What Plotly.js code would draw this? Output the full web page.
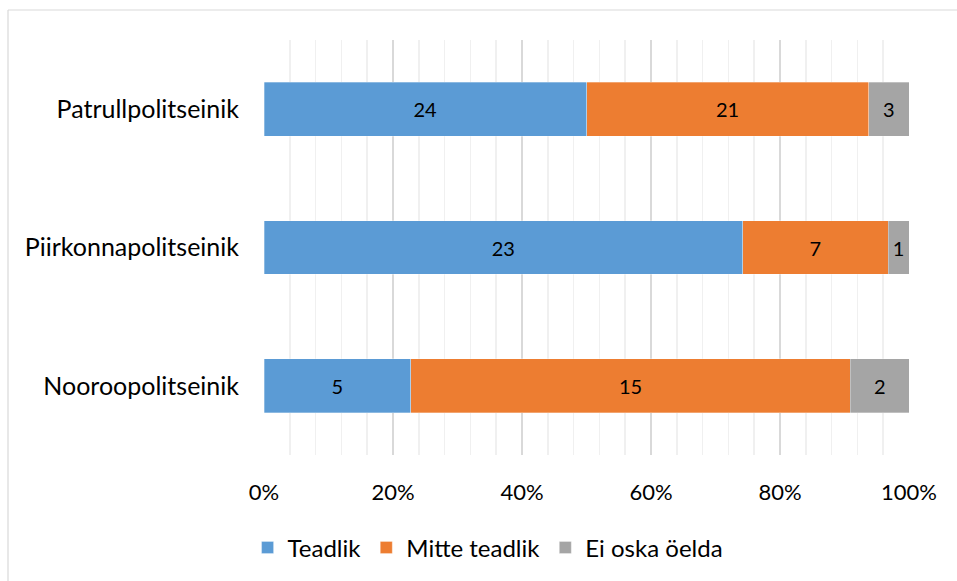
<!DOCTYPE html>
<html>
<head>
<meta charset="utf-8">
<script src="https://cdn.plot.ly/plotly-3.0.1.min.js"></script>
<style>
html,body{margin:0;padding:0;background:#fff;}
#chart{width:957px;height:581px;}
</style>
</head>
<body>
<div id="chart"></div>
<script>
const categories = ["Nooroopolitseinik", "Piirkonnapolitseinik", "Patrullpolitseinik"];
const seriesNames = ["Teadlik", "Mitte teadlik", "Ei oska öelda"];
const teadlik = [5, 23, 24];
const mitteTeadlik = [15, 7, 21];
const eiOskaOelda = [2, 1, 3];
const xTickVals = [0, 20, 40, 60, 80, 100];
const xTickText = ["0%", "20%", "40%", "60%", "80%", "100%"];

const colors = ["#5B9BD5", "#ED7D31", "#A5A5A5"];
const FONT = "Lato, 'Open Sans', 'DejaVu Sans', sans-serif";

const values = [teadlik, mitteTeadlik, eiOskaOelda];
const data = values.map((v, i) => ({
  type: "bar",
  orientation: "h",
  name: seriesNames[i],
  y: categories,
  x: v,
  text: v.map(String),
  texttemplate: "%{text}",
  textposition: "inside",
  insidetextanchor: "middle",
  textangle: 0,
  constraintext: "none",
  textfont: {family: FONT, size: 20, color: "#000"},
  marker: {color: colors[i], line: {color: "rgba(255,255,255,0.6)", width: 0.5}},
  hoverinfo: "skip"
}));

const layout = {
  width: 957,
  height: 581,
  margin: {l: 264, r: 48, t: 40, b: 126},
  paper_bgcolor: "#fff",
  plot_bgcolor: "#fff",
  barmode: "stack",
  barnorm: "percent",
  bargap: 0.61,
  showlegend: true,
  font: {family: FONT, color: "#000"},
  xaxis: {
    range: [0, 100],
    tickvals: xTickVals,
    ticktext: xTickText,
    showgrid: true,
    gridcolor: "#D9D9D9",
    gridwidth: 1.5,
    zeroline: false,
    showline: false,
    ticks: "",
    ticklabelstandoff: 22,
    tickfont: {family: FONT, size: 22, color: "#000"},
    minor: {dtick: 4, showgrid: true, gridcolor: "#F0F0F0", gridwidth: 1.5, ticks: ""},
    fixedrange: true
  },
  yaxis: {
    type: "category",
    categoryorder: "array",
    categoryarray: categories,
    showgrid: false,
    zeroline: false,
    showline: false,
    ticks: "",
    ticklabelstandoff: 24,
    tickfont: {family: FONT, size: 25, color: "#000"},
    fixedrange: true
  },
  legend: {
    orientation: "h",
    xref: "container",
    yref: "container",
    x: 0.51,
    xanchor: "center",
    y: 0.057,
    yanchor: "middle",
    font: {family: FONT, size: 24, color: "#000"},
    traceorder: "normal",
    itemwidth: 30
  },
  shapes: [
    {type: "line", xref: "paper", yref: "paper", x0: (8 - 264) / 645, x1: 1.2, y0: (455 - 10) / 415, y1: (455 - 10) / 415, line: {color: "#D9D9D9", width: 1.2}, layer: "below"},
    {type: "line", xref: "paper", yref: "paper", x0: (8 - 264) / 645, x1: (8 - 264) / 645, y0: (455 - 10) / 415, y1: -0.4, line: {color: "#D9D9D9", width: 1.2}, layer: "below"}
  ]
};

Plotly.newPlot("chart", data, layout, {displayModeBar: false, staticPlot: true});
</script>
</body>
</html>
